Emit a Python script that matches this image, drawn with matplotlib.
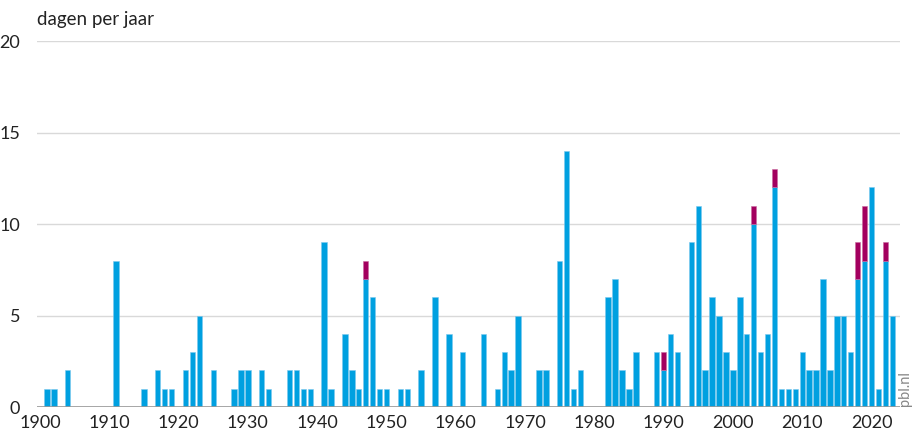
import matplotlib.pyplot as plt

# jaren met minstens één dag
years = [1901, 1902, 1904, 1911, 1915, 1917, 1918, 1919, 1921, 1922, 1923, 1925,
         1928, 1929, 1930, 1932, 1933, 1936, 1937, 1938, 1939, 1941, 1942, 1944,
         1945, 1946, 1947, 1948, 1949, 1950, 1952, 1953, 1955, 1957, 1959, 1961,
         1964, 1966, 1967, 1968, 1969, 1972, 1973, 1975, 1976, 1977, 1978, 1982,
         1983, 1984, 1985, 1986, 1989, 1990, 1991, 1992, 1994, 1995, 1996, 1997,
         1998, 1999, 2000, 2001, 2002, 2003, 2004, 2005, 2006, 2007, 2008, 2009,
         2010, 2011, 2012, 2013, 2014, 2015, 2016, 2017, 2018, 2019, 2020, 2021,
         2022, 2023]
blue = [1, 1, 2, 8, 1, 2, 1, 1, 2, 3, 5, 2,
        1, 2, 2, 2, 1, 2, 2, 1, 1, 9, 1, 4,
        2, 1, 7, 6, 1, 1, 1, 1, 2, 6, 4, 3,
        4, 1, 3, 2, 5, 2, 2, 8, 14, 1, 2, 6,
        7, 2, 1, 3, 3, 2, 4, 3, 9, 11, 2, 6,
        5, 3, 2, 6, 4, 10, 3, 4, 12, 1, 1, 1,
        3, 2, 2, 7, 2, 5, 5, 3, 7, 8, 12, 1,
        8, 5]
purple = [0, 0, 0, 0, 0, 0, 0, 0, 0, 0, 0, 0,
          0, 0, 0, 0, 0, 0, 0, 0, 0, 0, 0, 0,
          0, 0, 1, 0, 0, 0, 0, 0, 0, 0, 0, 0,
          0, 0, 0, 0, 0, 0, 0, 0, 0, 0, 0, 0,
          0, 0, 0, 0, 0, 1, 0, 0, 0, 0, 0, 0,
          0, 0, 0, 0, 0, 1, 0, 0, 1, 0, 0, 0,
          0, 0, 0, 0, 0, 0, 0, 0, 2, 3, 0, 0,
          1, 0]
xticks = list(range(1900, 2021, 10))
yticks = [0, 5, 10, 15, 20]

plt.rcParams['font.family'] = ['Lato', 'DejaVu Sans']

fig = plt.figure(figsize=(9.18, 4.34), dpi=100)
ax = fig.add_axes([0.0403, 0.0622, 0.940, 0.843])

ax.bar(years, blue, width=0.78, color='#00a0e0', edgecolor='#7cc8ee', linewidth=0.4, zorder=3)

# alleen jaren met paars deel
p_years = [y for y, p in zip(years, purple) if p > 0]
p_vals = [p for p in purple if p > 0]
p_bottom = [b for b, p in zip(blue, purple) if p > 0]
ax.bar(p_years, p_vals, bottom=p_bottom, width=0.78, color='#a3005f', edgecolor='#c96a9e',
       linewidth=0.4, zorder=3)

ax.set_xlim(1899.57, 2024.1)
ax.set_ylim(0, 20)
ax.set_xticks(xticks)
ax.set_yticks(yticks)
ax.tick_params(length=0, labelsize=13, colors='#222222')
ax.tick_params(axis='y', pad=12)
ax.tick_params(axis='x', pad=6)
ax.grid(axis='y', color='#d9d9d9', linewidth=1, zorder=0)
ax.axhline(0, color='#999999', linewidth=1.2, zorder=4)
for s in ax.spines.values():
    s.set_visible(False)

fig.text(0.0403, 0.955, 'dagen per jaar', fontsize=13.5, color='#222222', ha='left', va='center')
fig.text(0.994, 0.065, 'pbl.nl', fontsize=10.5, color='#888888', rotation=90,
         ha='right', va='bottom')

fig.savefig('out.png', dpi=100)
